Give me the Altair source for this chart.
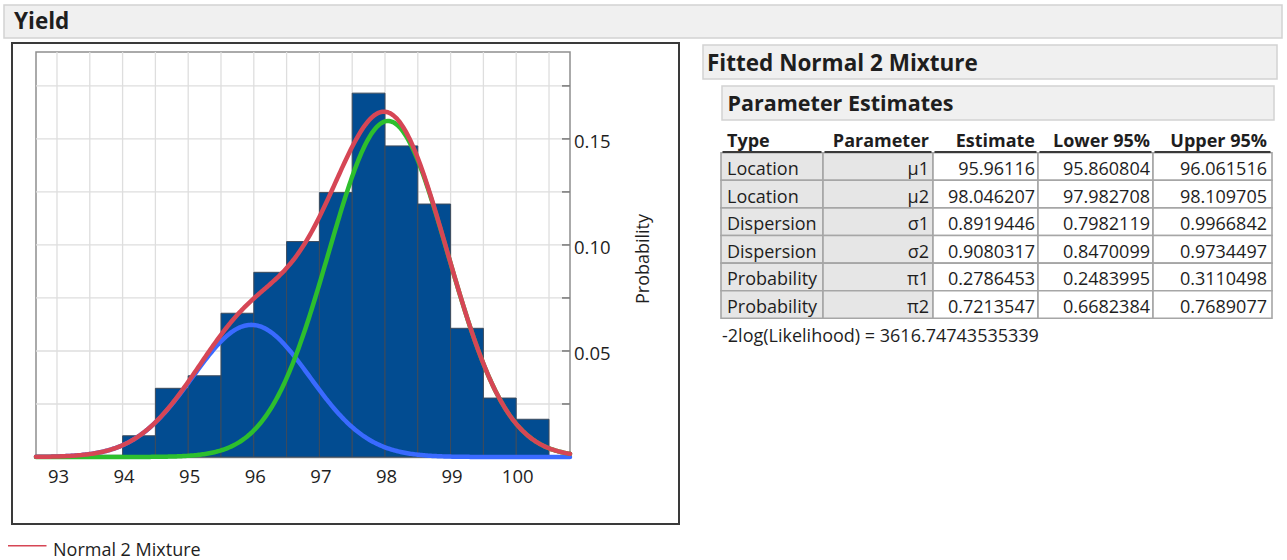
import altair as alt
import pandas as pd

# ---------------------------------------------------------------- data
# Yield histogram: share of observations in each half-unit bin
BIN_LEFT = [93.0, 93.5, 94.0, 94.5, 95.0, 95.5, 96.0, 96.5, 97.0, 97.5, 98.0, 98.5, 99.0, 99.5, 100.0]
BIN_PROB = [0.0008, 0.0008, 0.0100, 0.0324, 0.0383, 0.0678, 0.0871, 0.1016, 0.1247,
            0.1716, 0.1467, 0.1193, 0.0607, 0.0278, 0.0178]
BIN_WIDTH = 0.5

X_LABELS = [93, 94, 95, 96, 97, 98, 99, 100]
Y_LABELS = [0.05, 0.10, 0.15]
X_GRID = [93.0, 93.5, 94.0, 94.5, 95.0, 95.5, 96.0, 96.5, 97.0, 97.5, 98.0, 98.5, 99.0, 99.5, 100.0, 100.5]
Y_GRID = [0.025, 0.05, 0.075, 0.10, 0.125, 0.15, 0.175]

# Fitted Normal 2 Mixture: parameter estimates
HEADERS = ["Type", "Parameter", "Estimate", "Lower 95%", "Upper 95%"]
TYPES = ["Location", "Location", "Dispersion", "Dispersion", "Probability", "Probability"]
PARAMS = ["\u03bc1", "\u03bc2", "\u03c31", "\u03c32", "\u03c01", "\u03c02"]
ESTIMATE = [95.96116, 98.046207, 0.8919446, 0.9080317, 0.2786453, 0.7213547]
LOWER95 = [95.860804, 97.982708, 0.7982119, 0.8470099, 0.2483995, 0.6682384]
UPPER95 = [96.061516, 98.109705, 0.9966842, 0.9734497, 0.3110498, 0.7689077]
NEG2LOGLIK = 3616.74743535339

MU1, MU2, SD1, SD2, PI1, PI2 = ESTIMATE

# ---------------------------------------------------------------- layout
W, H = 1287, 560
PL, PR, PT, PB = 36, 570, 52, 457          # plot frame
X_DOMAIN = [92.68, 100.82]
Y_DOMAIN = [0, 0.191]
FONT = "Open Sans"
INK = "#1e1e1e"
RED, GREEN, BLUE, BAR = "#d64655", "#2dbf2d", "#3a6aff", "#024c91"

COL_EDGES = [721, 823, 933, 1038, 1153, 1272]
COL_FILL = ["#e6e6e6", "#e6e6e6", "white", "white", "white"]
COL_ALIGN = ["left", "right", "right", "right", "right"]
COL_ANCHOR = [727, 929, 1035, 1150, 1267]
ROW_TOP, ROW_BOTTOM = 152.7, 318.3

xs = alt.Scale(domain=X_DOMAIN, range=[PL, PR], nice=False, zero=False)
ys = alt.Scale(domain=Y_DOMAIN, range=[PB, PT], nice=False, zero=False)
rows = list(range(len(TYPES)))
row_scale = alt.Scale(type="band", domain=rows, range=[ROW_TOP, ROW_BOTTOM],
                      paddingInner=0, paddingOuter=0)

ONE = alt.Data(values=[{"k": 0}])


def box(x, x2, y, y2, fill, stroke, sw):
    return alt.Chart(ONE).mark_rect(fill=fill, stroke=stroke, strokeWidth=sw).encode(
        x=alt.value(x), x2=alt.value(x2), y=alt.value(y), y2=alt.value(y2))


def label(text, x, y, size, weight="normal", align="left", angle=0, baseline="alphabetic"):
    return alt.Chart(ONE).mark_text(
        text=text, font=FONT, fontSize=size, fontWeight=weight, align=align,
        baseline=baseline, angle=angle, color=INK).encode(x=alt.value(x), y=alt.value(y))


layers = []

# report header and outline boxes
layers.append(box(4, 1282, 5, 38, "#f0f0f0", "#d2d2d2", 1.5))
layers.append(label("Yield", 14, 28.5, 22.5, weight="bold"))
layers.append(box(12, 679, 43, 524, "white", "#3a3a3a", 2))
layers.append(box(PL, PR, PT, PB + 0.5, "white", "#8e8e8e", 1.5))

# grid
layers.append(alt.Chart(pd.DataFrame({"g": X_GRID})).mark_rule(color="#dedede", strokeWidth=1.3).encode(
    x=alt.X("g:Q", scale=xs, axis=None), y=alt.value(PT), y2=alt.value(PB)))
layers.append(alt.Chart(pd.DataFrame({"g": Y_GRID})).mark_rule(color="#dedede", strokeWidth=1.3).encode(
    y=alt.Y("g:Q", scale=ys, axis=None), x=alt.value(PL), x2=alt.value(PR)))

# histogram
bins = pd.DataFrame({"lo": BIN_LEFT, "hi": [b + BIN_WIDTH for b in BIN_LEFT], "p": BIN_PROB})
layers.append(alt.Chart(bins).mark_rect(fill=BAR, stroke="#3d4b5c", strokeWidth=1).encode(
    x=alt.X("lo:Q", scale=xs, axis=None), x2="hi:Q",
    y=alt.Y("p:Q", scale=ys, axis=None), y2=alt.datum(0)))

# fitted mixture components and total, scaled to the bin width
curves = alt.Chart(alt.sequence(X_DOMAIN[0], X_DOMAIN[1] + 0.01, 0.02, as_="v")).transform_calculate(
    c1=f"{BIN_WIDTH}*{PI1}*densityNormal(datum.v,{MU1},{SD1})",
    c2=f"{BIN_WIDTH}*{PI2}*densityNormal(datum.v,{MU2},{SD2})",
).transform_calculate(mix="datum.c1+datum.c2")
for field, colour in [("c1", BLUE), ("c2", GREEN), ("mix", RED)]:
    layers.append(curves.mark_line(color=colour, strokeWidth=4.5, strokeCap="round").encode(
        x=alt.X("v:Q", scale=xs, axis=None), y=alt.Y(f"{field}:Q", scale=ys, axis=None)))

# right-hand axis: inward ticks, labels, title
layers.append(alt.Chart(pd.DataFrame({"g": Y_GRID})).mark_rule(color="#5a5a5a", strokeWidth=1.2).encode(
    y=alt.Y("g:Q", scale=ys, axis=None), x=alt.value(PR - 8), x2=alt.value(PR)))
layers.append(alt.Chart(pd.DataFrame({"t": Y_LABELS})).mark_text(
    font=FONT, fontSize=18.5, align="left", baseline="alphabetic", dy=9.5, color=INK).encode(
    y=alt.Y("t:Q", scale=ys, axis=None), x=alt.value(574), text=alt.Text("t:Q", format=".2f")))
layers.append(label("Probability", 644, 259, 18, align="center", angle=270, baseline="middle"))

# bottom axis labels
layers.append(alt.Chart(pd.DataFrame({"t": X_LABELS})).mark_text(
    font=FONT, fontSize=18.5, align="center", baseline="alphabetic", dx=1.5, color=INK).encode(
    x=alt.X("t:Q", scale=xs, axis=None), y=alt.value(482.7), text=alt.Text("t:Q", format="d")))

# legend
layers.append(alt.Chart(ONE).mark_rule(color=RED, strokeWidth=1.6).encode(
    x=alt.value(8), x2=alt.value(46.5), y=alt.value(545.7)))
layers.append(label("Normal 2 Mixture", 53, 555.7, 18))

# parameter estimates report
layers.append(box(703, 1277, 45, 79, "#f0f0f0", "#d2d2d2", 1.5))
layers.append(label("Fitted Normal 2 Mixture", 707, 70.7, 22.5, weight="bold"))
layers.append(box(722, 1274, 86, 120, "#f0f0f0", "#d2d2d2", 1.5))
layers.append(label("Parameter Estimates", 727.5, 110.7, 21.5, weight="bold"))

table = pd.DataFrame({
    "row": rows,
    "c0": TYPES,
    "c1": PARAMS,
    "c2": [repr(v) for v in ESTIMATE],
    "c3": [repr(v) for v in LOWER95],
    "c4": [repr(v) for v in UPPER95],
})
for i in range(len(HEADERS)):
    left, right = COL_EDGES[i], COL_EDGES[i + 1]
    layers.append(alt.Chart(table).mark_rect(fill=COL_FILL[i], stroke="#a6a6a6", strokeWidth=1.6).encode(
        x=alt.value(left), x2=alt.value(right), y=alt.Y("row:O", scale=row_scale, axis=None)))
for i in range(len(HEADERS)):
    left, right = COL_EDGES[i], COL_EDGES[i + 1]
    layers.append(alt.Chart(table).mark_text(
        font=FONT, fontSize=18, align=COL_ALIGN[i], baseline="alphabetic", dy=8.5, color=INK).encode(
        x=alt.value(COL_ANCHOR[i]), y=alt.Y("row:O", scale=row_scale, axis=None), text=f"c{i}:N"))
    layers.append(label(HEADERS[i], COL_ANCHOR[i], 146.7, 18, weight="bold", align=COL_ALIGN[i]))
    layers.append(alt.Chart(ONE).mark_rule(color="#3a3a3a", strokeWidth=2).encode(
        x=alt.value(left + 1.5), x2=alt.value(right - 1.5), y=alt.value(152)))

layers.append(label(f"-2log(Likelihood) = {NEG2LOGLIK!r}", 722, 341.7, 18))

chart = alt.layer(*layers).resolve_scale(x="independent", y="independent").properties(
    width=W, height=H, padding=0, background="white",
    autosize=alt.AutoSizeParams(type="none"),
).configure_view(stroke=None)

chart.save("out.html", embed_options={"renderer": "svg", "actions": False})
